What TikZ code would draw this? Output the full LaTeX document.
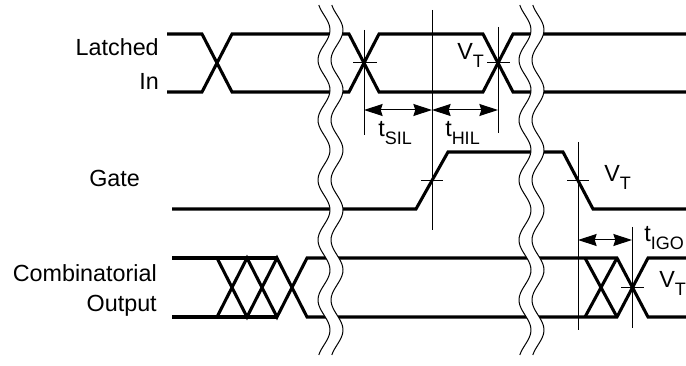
\documentclass[tikz,border=0pt]{standalone}
\usepackage{fontspec}
\setmainfont{Liberation Sans}
\usetikzlibrary{arrows.meta}
\newcommand{\lbsub}[1]{\raisebox{-0.32em}{\fontsize{13.5}{13.5}\selectfont #1}}
\begin{document}
\begin{tikzpicture}[x=0.75pt,y=-0.75pt,
  sig/.style={line width=2.3pt, line join=miter},
  hair/.style={line width=0.75pt},
  dim/.style={line width=0.75pt, {Stealth[length=14pt,width=9pt,inset=1.5pt]}-{Stealth[length=14pt,width=9pt,inset=1.5pt]}},
  lbl/.style={font=\fontsize{17.5}{20}\selectfont, inner sep=0pt},
]
\useasboundingbox (0,0) rectangle (686,366);
% labels
\node[lbl, anchor=base east] (latched) at (159,56) {Latched};
\node[lbl, anchor=base east] (in) at (159,90) {In};
\node[lbl, anchor=base west] (gate) at (89,187) {Gate};
\node[lbl, anchor=base east] (comb) at (157,282) {Combinatorial};
\node[lbl, anchor=base east] (out) at (157,312) {Output};
% Latched In
\draw[sig] (167,34) -- (202,34) -- (232,92) -- (349,92) -- (379,34) -- (483,34) -- (513,92) -- (686,92);
\draw[sig] (167,92) -- (202,92) -- (232,34) -- (349,34) -- (379,92) -- (483,92) -- (513,34) -- (686,34);
% Gate
\draw[sig] (172,209) -- (416,209) -- (448,152) -- (563,152) -- (593,209) -- (686,209);
% Combinatorial output
\draw[sig] (172,258) -- (277,258) (172,317) -- (277,317);
\draw[sig] (217,258) -- (247,317) -- (277,258) -- (307,317) -- (617,317) -- (648,258) -- (686,258);
\draw[sig] (217,317) -- (247,258) -- (277,317) -- (307,258) -- (617,258) -- (648,317) -- (686,317);
\draw[sig] (585,258) -- (617,317) (585,317) -- (617,258);
% verticals
\coordinate (v1a) at (364,30);  \coordinate (v1b) at (364,135);
\coordinate (v2a) at (432,10);  \coordinate (v2b) at (432,230);
\coordinate (v3a) at (498,27);  \coordinate (v3b) at (498,133);
\coordinate (v4a) at (578,142); \coordinate (v4b) at (578,330);
\coordinate (v5a) at (632,227); \coordinate (v5b) at (632,328);
\draw[hair] (v1a) -- (v1b) (v2a) -- (v2b) (v3a) -- (v3b) (v4a) -- (v4b) (v5a) -- (v5b);
% ticks
\draw[hair] (353,63) -- (377,63) (487,63) -- (510,63) (421,181) -- (443,181) (567,181) -- (589,181) (621,288) -- (644,288);
% dimension arrows
\coordinate (a1) at (364,110); \coordinate (a2) at (432,110); \coordinate (a3) at (498,110);
\coordinate (a4) at (578,240); \coordinate (a5) at (632,240);
\draw[dim] (a1) -- (a2);
\draw[dim] (a2) -- (a3);
\draw[dim] (a4) -- (a5);
% timing labels
\node[lbl, anchor=base west] (tsil) at (378,137) {t\lbsub{SIL}};
\node[lbl, anchor=base west] (thil) at (445,137) {t\lbsub{HIL}};
\node[lbl, anchor=base west] (vt1) at (457,60) {V\lbsub{T}};
\node[lbl, anchor=base west] (vt2) at (604,182) {V\lbsub{T}};
\node[lbl, anchor=base west] (tigo) at (644,242) {t\lbsub{IGO}};
\node[lbl, anchor=base west] (vt3) at (659,288) {V\lbsub{T}};
% breaks
\foreach \c in {324,525} {
  \fill[white] plot[domain=5:355,samples=120] ({\c+6*sin(6*(\x-15))},\x) -- plot[domain=355:5,samples=120] ({\c+13+6*sin(6*(\x-15))},\x) -- cycle;
  \draw[hair] plot[domain=5:355,samples=120] ({\c+6*sin(6*(\x-15))},\x);
  \draw[hair] plot[domain=5:355,samples=120] ({\c+13+6*sin(6*(\x-15))},\x);
}
\end{tikzpicture}
\end{document}
